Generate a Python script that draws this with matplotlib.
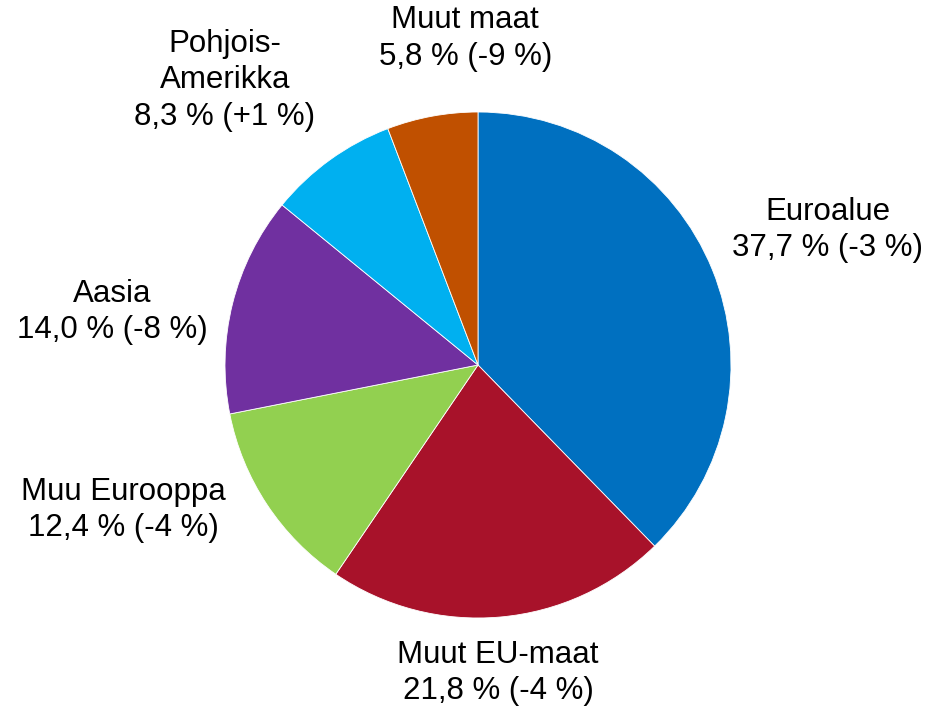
import matplotlib.pyplot as plt
import numpy as np

# Regions and their shares (%) with change in brackets
regions = ["Euroalue", "Muut EU-maat", "Muu Eurooppa", "Aasia", "Pohjois-\nAmerikka", "Muut maat"]
shares = [37.7, 21.8, 12.4, 14.0, 8.3, 5.8]
changes = ["-3", "-4", "-4", "-8", "+1", "-9"]
colors = ["#0070C0", "#A8122A", "#92D050", "#7030A0", "#00B0F0", "#C05000"]

# label offsets from pie centre, in radius units
label_pos = [(1.383, 0.534), (0.079, -1.217), (-1.403, -0.573),
             (-1.447, 0.209), (-1.0, 1.126), (-0.05, 1.29)]


def fmt(v):
    return f"{v:.1f}".replace(".", ",")


def main():
    plt.rcParams.update({"font.family": ["Liberation Sans", "DejaVu Sans"]})
    fig = plt.figure(figsize=(9.3, 7.11), dpi=100)
    ax = fig.add_axes([0, 0, 1, 1])

    ax.pie(shares, colors=colors, startangle=90, counterclock=False,
           wedgeprops={"edgecolor": "white", "linewidth": 0.6})

    for name, s, c, (x, y) in zip(regions, shares, changes, label_pos):
        ax.text(x, y, f"{name}\n{fmt(s)} % ({c} %)", ha="center", va="center",
                fontsize=22.5, linespacing=1.28)

    # place pie centre at (478, 365) px with radius 253 px
    r = 253
    ax.set_xlim(-478 / r, (930 - 478) / r)
    ax.set_ylim(-(711 - 365) / r, 365 / r)
    ax.set_aspect("equal")
    ax.axis("off")

    fig.savefig("out.png", dpi=100)


if __name__ == "__main__":
    main()
